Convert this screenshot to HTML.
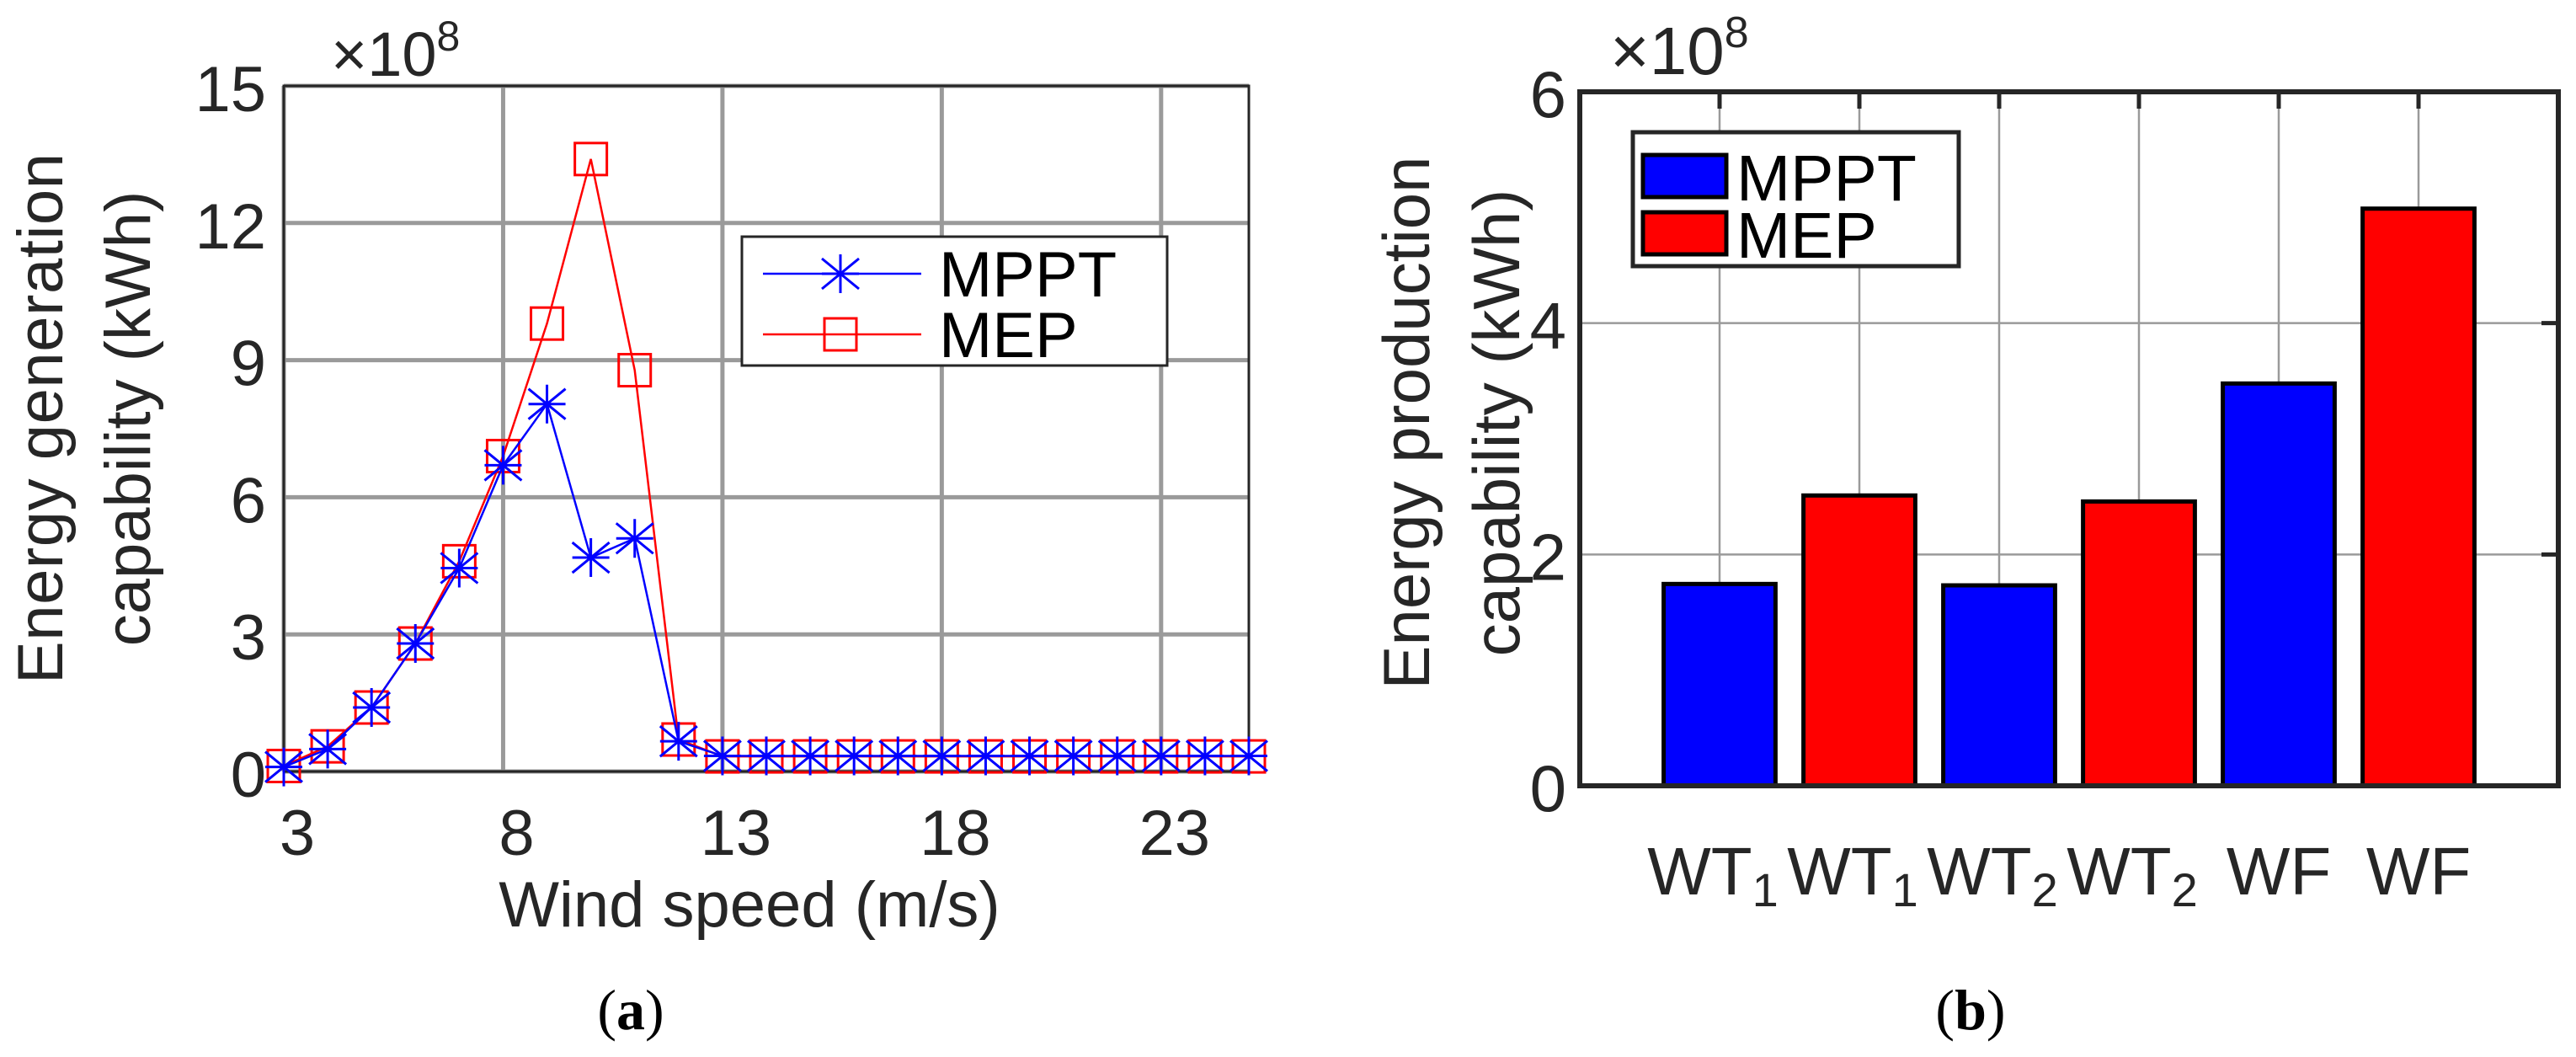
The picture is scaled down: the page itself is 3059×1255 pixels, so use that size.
<!DOCTYPE html>
<html><head><meta charset="utf-8"><style>
html,body{margin:0;padding:0;background:#fff}
svg{display:block}
text{font-family:"Liberation Sans",Arial,sans-serif;fill:#262626}
</style></head><body>
<svg id="fig" width="3059" height="1255" viewBox="0 0 3059 1255" xmlns="http://www.w3.org/2000/svg">
<g id="chartA"></g>
<g id="chartB"></g>
</svg>
<script>
const windSpeeds=[3,4,5,6,7,8,9,10,11,12,13,14,15,16,17,18,19,20,21,22,23,24,25];
const mpptValues=[0.1,0.49,1.4,2.8,4.45,6.7,8.04,4.68,5.1,0.66,0.34,0.34,0.34,0.34,0.34,0.34,0.34,0.34,0.34,0.34,0.34,0.34,0.34];
const mepValues=[0.12,0.55,1.4,2.8,4.6,6.9,9.8,13.4,8.78,0.7,0.33,0.33,0.33,0.33,0.33,0.33,0.33,0.33,0.33,0.33,0.33,0.33,0.33];
const xTicksA=[3,8,13,18,23];
const yTicksA=[0,3,6,9,12,15];
const barCategories=["WT1","WT1","WT2","WT2","WF","WF"];
const barValues=[1.745,2.51,1.733,2.458,3.478,4.99];
const barSeries=["MPPT","MEP","MPPT","MEP","MPPT","MEP"];
const yTicksB=[0,2,4,6];

const NS="http://www.w3.org/2000/svg";
function mk(parent,tag,attrs,txt){const e=document.createElementNS(NS,tag);for(const k in attrs)e.setAttribute(k,attrs[k]);if(txt!==undefined)e.textContent=txt;parent.appendChild(e);return e;}

/* ---------- Chart A ---------- */
const A=document.getElementById('chartA');
const aL=337,aR=1483,aT=102,aB=916;
const ax=v=>aL+(v-3)/(25-3)*(aR-aL);
const ay=v=>aB-(v/15)*(aB-aT);
xTicksA.forEach(t=>{const l=mk(A,'line',{x1:ax(t),x2:ax(t),y1:aT,y2:aB,stroke:'#9a9a9a','stroke-width':5});


const tx=mk(A,'text',{x:ax(t)+16,y:1015,'font-size':76,'text-anchor':'middle'},String(t));

});
yTicksA.forEach(t=>{const l=mk(A,'line',{x1:aL,x2:aR,y1:ay(t),y2:ay(t),stroke:'#9a9a9a','stroke-width':5});


const tx=mk(A,'text',{x:316,y:ay(t)+30,'font-size':76,'text-anchor':'end'},String(t));

});
const frameA=mk(A,'rect',{x:aL,y:aT,width:aR-aL,height:aB-aT,fill:'none',stroke:'#262626','stroke-width':3});


const expA=mk(A,'text',{x:393,y:90,'font-size':74},'×10');


mk(expA,'tspan',{dy:-30,'font-size':50},'8');

function series(vals,color,marker,name){
  const pts=windSpeeds.map((w,i)=>ax(w)+','+ay(vals[i])).join(' ');
  const pl=mk(A,'polyline',{points:pts,fill:'none',stroke:color,'stroke-width':2.5});
  
  
  windSpeeds.forEach((w,i)=>{drawMarker(A,ax(w),ay(vals[i]),color,marker,name);});
}
function drawMarker(g,x,y,color,marker,name){
  let m;
  if(marker==='square'){m=mk(g,'rect',{x:x-19,y:y-19,width:38,height:38,fill:'none',stroke:color,'stroke-width':3});}
  else{m=mk(g,'path',{d:`M${x-22},${y}H${x+22}M${x},${y-23}V${y+23}M${x-22},${y-18}L${x+22},${y+18}M${x-22},${y+18}L${x+22},${y-18}`,stroke:color,'stroke-width':3,fill:'none'});}
  
  
}
series(mepValues,'#ff0000','square','mep');
series(mpptValues,'#0000ff','star','mppt');

const legA=mk(A,'g',{});


mk(legA,'rect',{x:881,y:281,width:505,height:153,fill:'#fff',stroke:'#262626','stroke-width':3});
mk(legA,'line',{x1:906,x2:1094,y1:325,y2:325,stroke:'#0000ff','stroke-width':2.5});
drawMarker(legA,998,325,'#0000ff','star','legend-mppt');
mk(legA,'line',{x1:906,x2:1094,y1:397,y2:397,stroke:'#ff0000','stroke-width':2.5});
drawMarker(legA,998,397,'#ff0000','square','legend-mep');
mk(legA,'text',{x:1115,y:352,'font-size':76,style:'fill:#000'},'MPPT');
mk(legA,'text',{x:1115,y:424,'font-size':76,style:'fill:#000'},'MEP');

const xtA=mk(A,'text',{x:890,y:1100,'font-size':76,'text-anchor':'middle'},'Wind speed (m/s)');


const ytA=mk(A,'text',{transform:'translate(74,497) rotate(-90)','font-size':76,'text-anchor':'middle',textLength:630},'Energy generation');


const ytA2=mk(A,'text',{transform:'translate(178,497) rotate(-90)','font-size':76,'text-anchor':'middle'},'capability (kWh)');


const capA=mk(A,'text',{x:749,y:1222,'font-size':68,'text-anchor':'middle',style:'font-family:\"Liberation Serif\",serif;fill:#000'},'(');


mk(capA,'tspan',{'font-weight':'bold'},'a');mk(capA,'tspan',{},')');

/* ---------- Chart B ---------- */
const B=document.getElementById('chartB');
const bL=1876,bR=3038,bT=109,bB=933;
const bx=i=>bL+(i+1)/7*(bR-bL);
const by=v=>bB-(v/6)*(bB-bT);
const colors={MPPT:'#0000ff',MEP:'#ff0000'};
barCategories.forEach((c,i)=>{const l=mk(B,'line',{x1:bx(i),x2:bx(i),y1:bT,y2:bB,stroke:'#9a9a9a','stroke-width':2.5});


mk(B,'line',{x1:bx(i),x2:bx(i),y1:bT,y2:bT+20,stroke:'#262626','stroke-width':5});});
yTicksB.forEach(t=>{const l=mk(B,'line',{x1:bL,x2:bR,y1:by(t),y2:by(t),stroke:'#9a9a9a','stroke-width':2.5});


mk(B,'line',{x1:bR-20,x2:bR,y1:by(t),y2:by(t),stroke:'#262626','stroke-width':5});
const tx=mk(B,'text',{x:1860,y:by(t)+30,'font-size':78,'text-anchor':'end'},String(t));

});
const bw=(bR-bL)/7*0.8;
barValues.forEach((v,i)=>{const r=mk(B,'rect',{x:bx(i)-bw/2,y:by(v),width:bw,height:bB-by(v),fill:colors[barSeries[i]],stroke:'#000','stroke-width':5});


const m=barCategories[i].match(/^(\D+)(\d*)$/);
const tx=mk(B,'text',{x:bx(i)-(m[2]?8:0),y:1062,'font-size':80,'text-anchor':'middle'},m[1]);
if(m[2])mk(tx,'tspan',{dy:14,'font-size':56},m[2]);

});
const frameB=mk(B,'rect',{x:bL,y:bT,width:bR-bL,height:bB-bT,fill:'none',stroke:'#262626','stroke-width':6});


const expB=mk(B,'text',{x:1912,y:88,'font-size':80},'×10');


mk(expB,'tspan',{dy:-32,'font-size':52},'8');

const legB=mk(B,'g',{});


mk(legB,'rect',{x:1939,y:157,width:387,height:159,fill:'#fff',stroke:'#262626','stroke-width':5});
mk(legB,'rect',{x:1951,y:184,width:99,height:50,fill:'#0000ff',stroke:'#000','stroke-width':5});
mk(legB,'rect',{x:1951,y:252,width:99,height:50,fill:'#ff0000',stroke:'#000','stroke-width':5});
mk(legB,'text',{x:2062,y:238,'font-size':77,style:'fill:#000'},'MPPT');
mk(legB,'text',{x:2062,y:306,'font-size':77,style:'fill:#000'},'MEP');

const ytB=mk(B,'text',{transform:'translate(1697,502) rotate(-90)','font-size':78,'text-anchor':'middle'},'Energy production');


const ytB2=mk(B,'text',{transform:'translate(1804,502) rotate(-90)','font-size':78,'text-anchor':'middle'},'capability (kWh)');


const capB=mk(B,'text',{x:2340,y:1222,'font-size':68,'text-anchor':'middle',style:'font-family:\"Liberation Serif\",serif;fill:#000'},'(');


mk(capB,'tspan',{'font-weight':'bold'},'b');mk(capB,'tspan',{},')');
</script>
</body></html>
